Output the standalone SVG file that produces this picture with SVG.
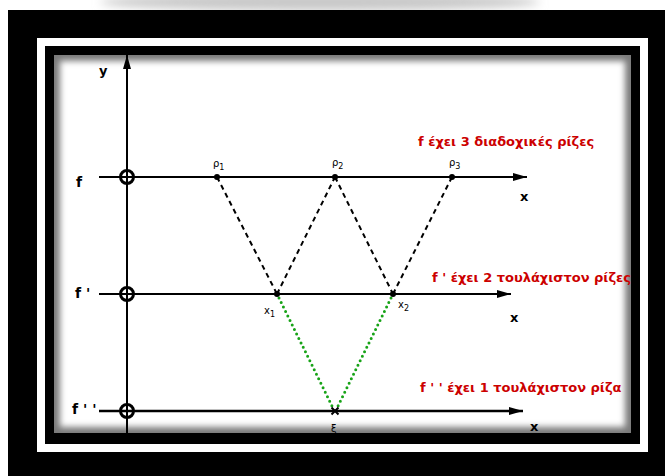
<svg xmlns="http://www.w3.org/2000/svg" width="665" height="476" viewBox="0 0 665 476">
<style>
.ax{stroke:#000;stroke-width:2;fill:none}
.lbl{font-family:"DejaVu Sans",Verdana,sans-serif;font-weight:bold;fill:#000}
.red{font-family:"DejaVu Sans",Verdana,sans-serif;font-weight:bold;font-size:13px;fill:#cc0000}
.sm{font-family:"DejaVu Sans",Verdana,sans-serif;font-size:10px;fill:#000}
.dash{stroke:#000;stroke-width:2;stroke-dasharray:5 4;fill:none}
.dot{stroke:#17a317;stroke-width:3;stroke-dasharray:0 5;stroke-linecap:round;fill:none}
.ring{fill:none;stroke:#000;stroke-width:3}
</style>
<defs>
<marker id="arr" viewBox="0 0 14 8" refX="14" refY="4" markerWidth="14" markerHeight="8" markerUnits="userSpaceOnUse" orient="auto">
<path d="M0,0 L14,4 L0,8 z" fill="#000"/>
</marker>
<filter id="blur" x="-20%" y="-20%" width="140%" height="140%"><feGaussianBlur stdDeviation="3"/></filter>
<filter id="blur2" x="-50%" y="-200%" width="200%" height="500%"><feGaussianBlur stdDeviation="5"/></filter>
<clipPath id="inner"><rect x="54" y="55" width="577" height="378"/></clipPath>
<clipPath id="topstrip"><rect x="0" y="0" width="665" height="10"/></clipPath>
</defs>
<rect width="665" height="476" fill="#fff"/>
<g clip-path="url(#topstrip)"><ellipse cx="320" cy="2" rx="220" ry="9" fill="#c8c8c8" filter="url(#blur2)"/></g>
<g id="frame">
<rect x="8" y="10" width="657" height="466" fill="#000"/>
<rect x="37" y="38" width="611" height="414" fill="#fff"/>
<rect x="45" y="46" width="595" height="398" fill="#000"/>
<g clip-path="url(#inner)">
<rect x="54" y="55" width="577" height="378" fill="#7a7a7a"/>
<rect x="60" y="61" width="565" height="366" fill="#fff" filter="url(#blur)"/>
</g>
</g>
<g clip-path="url(#inner)">
<g id="axes">
<line class="ax" x1="127" y1="433" x2="127" y2="55" marker-end="url(#arr)"/>
<line class="ax" x1="99" y1="177" x2="527" y2="177" marker-end="url(#arr)"/>
<line class="ax" x1="99" y1="294" x2="511" y2="294" marker-end="url(#arr)"/>
<line class="ax" x1="99" y1="411" x2="523" y2="411" marker-end="url(#arr)" style="stroke-width:2.5"/>
</g>
<g id="connectors">
<line class="dash" x1="217" y1="177" x2="277" y2="294"/>
<line class="dash" x1="277" y1="294" x2="335" y2="177"/>
<line class="dash" x1="335" y1="177" x2="393" y2="294"/>
<line class="dash" x1="393" y1="294" x2="452" y2="177"/>
<line class="dot" x1="279" y1="298" x2="333" y2="408"/>
<line class="dot" x1="391" y1="298" x2="337" y2="408"/>
</g>
<g id="origin-f"><circle class="ring" cx="127" cy="177" r="6.5"/></g>
<g id="origin-f1"><circle class="ring" cx="127" cy="294" r="6.5"/></g>
<g id="origin-f2"><circle class="ring" cx="127" cy="411" r="6.5"/></g>
<g id="rho1"><circle cx="217" cy="177" r="3" fill="#000"/><text class="sm" x="213" y="167">ρ<tspan font-size="8" dy="3">1</tspan></text></g>
<g id="rho2"><circle cx="335" cy="177" r="3" fill="#000"/><text class="sm" x="332" y="166">ρ<tspan font-size="8" dy="3">2</tspan></text></g>
<g id="rho3"><circle cx="452" cy="177" r="3" fill="#000"/><text class="sm" x="449" y="166">ρ<tspan font-size="8" dy="3">3</tspan></text></g>
<g id="x1"><circle cx="277" cy="294" r="3" fill="#000"/><text class="sm" x="264" y="314">x<tspan font-size="8" dy="3">1</tspan></text></g>
<g id="x2"><circle cx="393" cy="294" r="3" fill="#000"/><text class="sm" x="398" y="308">x<tspan font-size="8" dy="3">2</tspan></text></g>
<g id="xi"><path d="M331.5,407.5 L338.5,414.5 M338.5,407.5 L331.5,414.5" stroke="#000" stroke-width="2"/><text class="sm" x="331" y="432" font-size="11">ξ</text></g>
<g id="labels">
<text class="lbl" x="99" y="75" font-size="13">y</text>
<text class="lbl" x="76" y="187" font-size="14">f</text>
<text class="lbl" x="75" y="298" font-size="14">f '</text>
<text class="lbl" x="72" y="414" font-size="14">f ' '</text>
<text class="lbl" x="520" y="201" font-size="13">x</text>
<text class="lbl" x="510" y="322" font-size="13">x</text>
<text class="lbl" x="530" y="431" font-size="13">x</text>
<text class="red" x="418" y="146">f έχει 3 διαδοχικές ρίζες</text>
<text class="red" x="432" y="282">f ' έχει 2 τουλάχιστον ρίζες</text>
<text class="red" x="420" y="392">f ' ' έχει 1 τουλάχιστον ρίζα</text>
</g>
</g>
</svg>
